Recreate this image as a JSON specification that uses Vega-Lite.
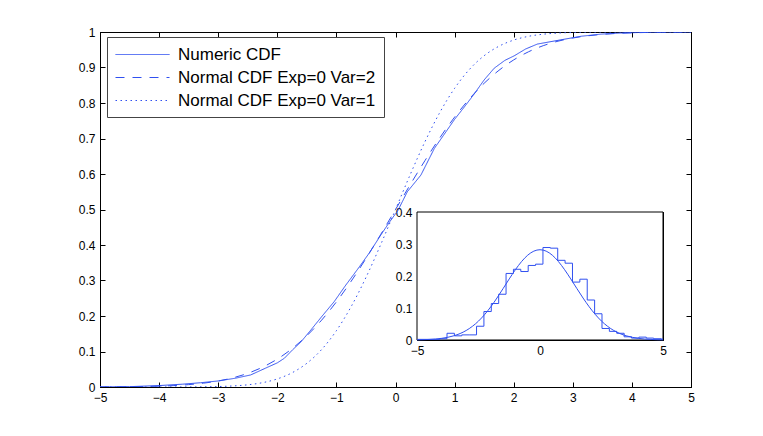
{
  "$schema": "https://vega.github.io/schema/vega-lite/v6.json",
  "width": 591,
  "height": 355,
  "autosize": "none",
  "padding": {"left": 100, "top": 32, "right": 72, "bottom": 49},
  "background": "white",
  "config": {
    "view": {"stroke": "black", "strokeWidth": 1},
    "axis": {
      "domainColor": "black",
      "tickColor": "black",
      "labelColor": "black",
      "labelFont": "Liberation Sans",
      "labelFontSize": 12,
      "grid": false,
      "title": null,
      "tickSize": -5,
      "labelPadding": 10,
      "labelFlush": false,
      "labelOverlap": false
    }
  },
  "datasets": {
    "cdfnum": [
      {"x": -5, "y": 0, "s": "Numeric CDF"},
      {"x": -4.5, "y": 0.001, "s": "Numeric CDF"},
      {"x": -4, "y": 0.004, "s": "Numeric CDF"},
      {"x": -3.6, "y": 0.008, "s": "Numeric CDF"},
      {"x": -3.3, "y": 0.012, "s": "Numeric CDF"},
      {"x": -3.0, "y": 0.017, "s": "Numeric CDF"},
      {"x": -2.7, "y": 0.025, "s": "Numeric CDF"},
      {"x": -2.45, "y": 0.034, "s": "Numeric CDF"},
      {"x": -2.2, "y": 0.053, "s": "Numeric CDF"},
      {"x": -2.0, "y": 0.068, "s": "Numeric CDF"},
      {"x": -1.88, "y": 0.081, "s": "Numeric CDF"},
      {"x": -1.74, "y": 0.105, "s": "Numeric CDF"},
      {"x": -1.6, "y": 0.127, "s": "Numeric CDF"},
      {"x": -1.43, "y": 0.161, "s": "Numeric CDF"},
      {"x": -1.25, "y": 0.198, "s": "Numeric CDF"},
      {"x": -1.035, "y": 0.241, "s": "Numeric CDF"},
      {"x": -0.85, "y": 0.285, "s": "Numeric CDF"},
      {"x": -0.64, "y": 0.332, "s": "Numeric CDF"},
      {"x": -0.45, "y": 0.376, "s": "Numeric CDF"},
      {"x": -0.245, "y": 0.429, "s": "Numeric CDF"},
      {"x": -0.1, "y": 0.465, "s": "Numeric CDF"},
      {"x": 0.04, "y": 0.497, "s": "Numeric CDF"},
      {"x": 0.2, "y": 0.55, "s": "Numeric CDF"},
      {"x": 0.43, "y": 0.597, "s": "Numeric CDF"},
      {"x": 0.657, "y": 0.672, "s": "Numeric CDF"},
      {"x": 0.85, "y": 0.718, "s": "Numeric CDF"},
      {"x": 1.0, "y": 0.754, "s": "Numeric CDF"},
      {"x": 1.17, "y": 0.79, "s": "Numeric CDF"},
      {"x": 1.33, "y": 0.825, "s": "Numeric CDF"},
      {"x": 1.5, "y": 0.865, "s": "Numeric CDF"},
      {"x": 1.67, "y": 0.898, "s": "Numeric CDF"},
      {"x": 1.85, "y": 0.92, "s": "Numeric CDF"},
      {"x": 2.01, "y": 0.933, "s": "Numeric CDF"},
      {"x": 2.2, "y": 0.952, "s": "Numeric CDF"},
      {"x": 2.4, "y": 0.966, "s": "Numeric CDF"},
      {"x": 2.6, "y": 0.972, "s": "Numeric CDF"},
      {"x": 2.8, "y": 0.978, "s": "Numeric CDF"},
      {"x": 3.14, "y": 0.988, "s": "Numeric CDF"},
      {"x": 3.48, "y": 0.994, "s": "Numeric CDF"},
      {"x": 3.8, "y": 0.997, "s": "Numeric CDF"},
      {"x": 4.2, "y": 0.999, "s": "Numeric CDF"},
      {"x": 4.5, "y": 1.0, "s": "Numeric CDF"},
      {"x": 5, "y": 1.0, "s": "Numeric CDF"}
    ],
    "cdfnorm": [
      {"x": -5, "y": 0.0002, "s": "Normal CDF Exp=0 Var=2"},
      {"x": -4.75, "y": 0.0004, "s": "Normal CDF Exp=0 Var=2"},
      {"x": -4.5, "y": 0.0007, "s": "Normal CDF Exp=0 Var=2"},
      {"x": -4.25, "y": 0.0013, "s": "Normal CDF Exp=0 Var=2"},
      {"x": -4, "y": 0.0023, "s": "Normal CDF Exp=0 Var=2"},
      {"x": -3.75, "y": 0.004, "s": "Normal CDF Exp=0 Var=2"},
      {"x": -3.5, "y": 0.0067, "s": "Normal CDF Exp=0 Var=2"},
      {"x": -3.25, "y": 0.0108, "s": "Normal CDF Exp=0 Var=2"},
      {"x": -3, "y": 0.0169, "s": "Normal CDF Exp=0 Var=2"},
      {"x": -2.75, "y": 0.0259, "s": "Normal CDF Exp=0 Var=2"},
      {"x": -2.5, "y": 0.0385, "s": "Normal CDF Exp=0 Var=2"},
      {"x": -2.25, "y": 0.0558, "s": "Normal CDF Exp=0 Var=2"},
      {"x": -2, "y": 0.0786, "s": "Normal CDF Exp=0 Var=2"},
      {"x": -1.75, "y": 0.108, "s": "Normal CDF Exp=0 Var=2"},
      {"x": -1.5, "y": 0.1444, "s": "Normal CDF Exp=0 Var=2"},
      {"x": -1.25, "y": 0.1884, "s": "Normal CDF Exp=0 Var=2"},
      {"x": -1, "y": 0.2398, "s": "Normal CDF Exp=0 Var=2"},
      {"x": -0.75, "y": 0.298, "s": "Normal CDF Exp=0 Var=2"},
      {"x": -0.5, "y": 0.3618, "s": "Normal CDF Exp=0 Var=2"},
      {"x": -0.25, "y": 0.4298, "s": "Normal CDF Exp=0 Var=2"},
      {"x": 0, "y": 0.5, "s": "Normal CDF Exp=0 Var=2"},
      {"x": 0.25, "y": 0.5702, "s": "Normal CDF Exp=0 Var=2"},
      {"x": 0.5, "y": 0.6382, "s": "Normal CDF Exp=0 Var=2"},
      {"x": 0.75, "y": 0.702, "s": "Normal CDF Exp=0 Var=2"},
      {"x": 1, "y": 0.7602, "s": "Normal CDF Exp=0 Var=2"},
      {"x": 1.25, "y": 0.8116, "s": "Normal CDF Exp=0 Var=2"},
      {"x": 1.5, "y": 0.8556, "s": "Normal CDF Exp=0 Var=2"},
      {"x": 1.75, "y": 0.892, "s": "Normal CDF Exp=0 Var=2"},
      {"x": 2, "y": 0.9214, "s": "Normal CDF Exp=0 Var=2"},
      {"x": 2.25, "y": 0.9442, "s": "Normal CDF Exp=0 Var=2"},
      {"x": 2.5, "y": 0.9615, "s": "Normal CDF Exp=0 Var=2"},
      {"x": 2.75, "y": 0.9741, "s": "Normal CDF Exp=0 Var=2"},
      {"x": 3, "y": 0.9831, "s": "Normal CDF Exp=0 Var=2"},
      {"x": 3.25, "y": 0.9892, "s": "Normal CDF Exp=0 Var=2"},
      {"x": 3.5, "y": 0.9933, "s": "Normal CDF Exp=0 Var=2"},
      {"x": 3.75, "y": 0.996, "s": "Normal CDF Exp=0 Var=2"},
      {"x": 4, "y": 0.9977, "s": "Normal CDF Exp=0 Var=2"},
      {"x": 4.25, "y": 0.9987, "s": "Normal CDF Exp=0 Var=2"},
      {"x": 4.5, "y": 0.9993, "s": "Normal CDF Exp=0 Var=2"},
      {"x": 4.75, "y": 0.9996, "s": "Normal CDF Exp=0 Var=2"},
      {"x": 5, "y": 0.9998, "s": "Normal CDF Exp=0 Var=2"},
      {"x": -5, "y": 0.0, "s": "Normal CDF Exp=0 Var=1"},
      {"x": -4, "y": 0.00003, "s": "Normal CDF Exp=0 Var=1"},
      {"x": -3.5, "y": 0.0002, "s": "Normal CDF Exp=0 Var=1"},
      {"x": -3.25, "y": 0.0006, "s": "Normal CDF Exp=0 Var=1"},
      {"x": -3, "y": 0.0013, "s": "Normal CDF Exp=0 Var=1"},
      {"x": -2.75, "y": 0.003, "s": "Normal CDF Exp=0 Var=1"},
      {"x": -2.5, "y": 0.0062, "s": "Normal CDF Exp=0 Var=1"},
      {"x": -2.25, "y": 0.0122, "s": "Normal CDF Exp=0 Var=1"},
      {"x": -2, "y": 0.0228, "s": "Normal CDF Exp=0 Var=1"},
      {"x": -1.75, "y": 0.0401, "s": "Normal CDF Exp=0 Var=1"},
      {"x": -1.5, "y": 0.0668, "s": "Normal CDF Exp=0 Var=1"},
      {"x": -1.25, "y": 0.1056, "s": "Normal CDF Exp=0 Var=1"},
      {"x": -1, "y": 0.1587, "s": "Normal CDF Exp=0 Var=1"},
      {"x": -0.75, "y": 0.2266, "s": "Normal CDF Exp=0 Var=1"},
      {"x": -0.5, "y": 0.3085, "s": "Normal CDF Exp=0 Var=1"},
      {"x": -0.25, "y": 0.4013, "s": "Normal CDF Exp=0 Var=1"},
      {"x": 0, "y": 0.5, "s": "Normal CDF Exp=0 Var=1"},
      {"x": 0.25, "y": 0.5987, "s": "Normal CDF Exp=0 Var=1"},
      {"x": 0.5, "y": 0.6915, "s": "Normal CDF Exp=0 Var=1"},
      {"x": 0.75, "y": 0.7734, "s": "Normal CDF Exp=0 Var=1"},
      {"x": 1, "y": 0.8413, "s": "Normal CDF Exp=0 Var=1"},
      {"x": 1.25, "y": 0.8944, "s": "Normal CDF Exp=0 Var=1"},
      {"x": 1.5, "y": 0.9332, "s": "Normal CDF Exp=0 Var=1"},
      {"x": 1.75, "y": 0.9599, "s": "Normal CDF Exp=0 Var=1"},
      {"x": 2, "y": 0.9772, "s": "Normal CDF Exp=0 Var=1"},
      {"x": 2.25, "y": 0.9878, "s": "Normal CDF Exp=0 Var=1"},
      {"x": 2.5, "y": 0.9938, "s": "Normal CDF Exp=0 Var=1"},
      {"x": 2.75, "y": 0.997, "s": "Normal CDF Exp=0 Var=1"},
      {"x": 3, "y": 0.9987, "s": "Normal CDF Exp=0 Var=1"},
      {"x": 3.25, "y": 0.9994, "s": "Normal CDF Exp=0 Var=1"},
      {"x": 3.5, "y": 0.9998, "s": "Normal CDF Exp=0 Var=1"},
      {"x": 4, "y": 1.0, "s": "Normal CDF Exp=0 Var=1"},
      {"x": 5, "y": 1.0, "s": "Normal CDF Exp=0 Var=1"}
    ],
    "hist": [
      {"x": -4.98, "y": 0.002},
      {"x": -4.68, "y": 0.002},
      {"x": -4.38, "y": 0.002},
      {"x": -4.08, "y": 0.004},
      {"x": -3.78, "y": 0.021},
      {"x": -3.48, "y": 0.013},
      {"x": -3.18, "y": 0.016},
      {"x": -2.88, "y": 0.016},
      {"x": -2.58, "y": 0.043},
      {"x": -2.28, "y": 0.089},
      {"x": -1.98, "y": 0.114},
      {"x": -1.68, "y": 0.143},
      {"x": -1.38, "y": 0.208},
      {"x": -1.08, "y": 0.221},
      {"x": -0.78, "y": 0.214},
      {"x": -0.48, "y": 0.233},
      {"x": -0.18, "y": 0.237},
      {"x": 0.12, "y": 0.289},
      {"x": 0.42, "y": 0.287},
      {"x": 0.72, "y": 0.249},
      {"x": 1.02, "y": 0.24},
      {"x": 1.32, "y": 0.181},
      {"x": 1.62, "y": 0.19},
      {"x": 1.92, "y": 0.125},
      {"x": 2.22, "y": 0.082},
      {"x": 2.52, "y": 0.036},
      {"x": 2.82, "y": 0.027},
      {"x": 3.12, "y": 0.021},
      {"x": 3.42, "y": 0.01},
      {"x": 3.72, "y": 0.006},
      {"x": 4.02, "y": 0.009},
      {"x": 4.32, "y": 0.006},
      {"x": 4.62, "y": 0.004},
      {"x": 4.92, "y": 0.003},
      {"x": 5, "y": 0.003}
    ],
    "pdf": [
      {"x": -5, "y": 0.0005},
      {"x": -4.75, "y": 0.001},
      {"x": -4.5, "y": 0.0018},
      {"x": -4.25, "y": 0.0031},
      {"x": -4, "y": 0.0052},
      {"x": -3.75, "y": 0.0084},
      {"x": -3.5, "y": 0.0132},
      {"x": -3.25, "y": 0.0201},
      {"x": -3, "y": 0.0297},
      {"x": -2.75, "y": 0.0426},
      {"x": -2.5, "y": 0.0591},
      {"x": -2.25, "y": 0.0796},
      {"x": -2, "y": 0.1038},
      {"x": -1.75, "y": 0.1312},
      {"x": -1.5, "y": 0.1607},
      {"x": -1.25, "y": 0.1909},
      {"x": -1, "y": 0.2197},
      {"x": -0.75, "y": 0.2451},
      {"x": -0.5, "y": 0.265},
      {"x": -0.25, "y": 0.2777},
      {"x": 0, "y": 0.2821},
      {"x": 0.25, "y": 0.2777},
      {"x": 0.5, "y": 0.265},
      {"x": 0.75, "y": 0.2451},
      {"x": 1, "y": 0.2197},
      {"x": 1.25, "y": 0.1909},
      {"x": 1.5, "y": 0.1607},
      {"x": 1.75, "y": 0.1312},
      {"x": 2, "y": 0.1038},
      {"x": 2.25, "y": 0.0796},
      {"x": 2.5, "y": 0.0591},
      {"x": 2.75, "y": 0.0426},
      {"x": 3, "y": 0.0297},
      {"x": 3.25, "y": 0.0201},
      {"x": 3.5, "y": 0.0132},
      {"x": 3.75, "y": 0.0084},
      {"x": 4, "y": 0.0052},
      {"x": 4.25, "y": 0.0031},
      {"x": 4.5, "y": 0.0018},
      {"x": 4.75, "y": 0.001},
      {"x": 5, "y": 0.0005}
    ],
    "box": [{"x1": -5, "x2": 5, "y1": 0, "y2": 0.4}]
  },
  "layer": [
    {
      "layer": [
        {
          "data": {"name": "cdfnum"},
          "mark": {"type": "line", "color": "#3050f0", "strokeWidth": 1, "clip": true},
          "encoding": {
            "x": {"field": "x", "type": "quantitative",
                  "scale": {"domain": [-5, 5], "nice": false, "zero": false},
                  "axis": {"orient": "bottom", "values": [-5, -4, -3, -2, -1, 0, 1, 2, 3, 4, 5]}},
            "y": {"field": "y", "type": "quantitative",
                  "scale": {"domain": [0, 1], "nice": false},
                  "axis": {"orient": "left", "format": "~g", "values": [0, 0.1, 0.2, 0.3, 0.4, 0.5, 0.6, 0.7, 0.8, 0.9, 1]}},
            "strokeDash": {"field": "s", "type": "nominal",
              "scale": {"domain": ["Numeric CDF", "Normal CDF Exp=0 Var=2", "Normal CDF Exp=0 Var=1"],
                        "range": [[1, 0], [9, 8], [1.5, 3.5]]},
              "legend": {"orient": "none", "legendX": 7, "legendY": 5, "title": null,
                         "symbolType": "M-1,0H5", "symbolSize": 324, "symbolStrokeWidth": 1,
                         "symbolStrokeColor": "#3050f0", "labelFont": "Liberation Sans",
                         "labelFontSize": 17, "labelColor": "black", "labelOffset": 44,
                         "padding": 8, "rowPadding": 5, "strokeColor": "#444", "fillColor": "white",
                         "labelLimit": 400}}
          }
        },
        {
          "data": {"name": "cdfnorm"},
          "mark": {"type": "line", "color": "#3050f0", "strokeWidth": 1, "interpolate": "monotone", "clip": true},
          "encoding": {
            "x": {"field": "x", "type": "quantitative",
                  "axis": {"orient": "top", "labels": false, "values": [-5, -4, -3, -2, -1, 0, 1, 2, 3, 4, 5]}},
            "y": {"field": "y", "type": "quantitative",
                  "axis": {"orient": "right", "labels": false, "values": [0, 0.1, 0.2, 0.3, 0.4, 0.5, 0.6, 0.7, 0.8, 0.9, 1]}},
            "strokeDash": {"field": "s", "type": "nominal"}
          }
        }
      ],
      "resolve": {"axis": {"x": "independent", "y": "independent"}}
    },
    {
      "layer": [
        {
          "data": {"name": "box"},
          "mark": {"type": "rect", "fill": "white", "stroke": "black", "strokeWidth": 1},
          "encoding": {
            "x": {"field": "x1", "type": "quantitative",
                  "scale": {"domain": [-5, 5], "range": [317, 563], "nice": false, "zero": false},
                  "axis": {"orient": "bottom", "offset": -47, "values": [-5, 0, 5]}},
            "x2": {"field": "x2"},
            "y": {"field": "y1", "type": "quantitative",
                  "scale": {"domain": [0, 0.4], "range": [308, 180], "nice": false},
                  "axis": {"orient": "left", "offset": -317, "format": "~g", "values": [0, 0.1, 0.2, 0.3, 0.4]}},
            "y2": {"field": "y2"}
          }
        },
        {
          "data": {"name": "hist"},
          "mark": {"type": "line", "color": "#3050f0", "strokeWidth": 1, "interpolate": "step-after"},
          "encoding": {
            "x": {"field": "x", "type": "quantitative",
                  "axis": {"orient": "top", "offset": -180, "labels": false, "values": [-5, 0, 5]}},
            "y": {"field": "y", "type": "quantitative",
                  "axis": {"orient": "right", "offset": -28, "labels": false, "values": [0, 0.1, 0.2, 0.3, 0.4]}}
          }
        },
        {
          "data": {"name": "pdf"},
          "mark": {"type": "line", "color": "#3050f0", "strokeWidth": 1, "interpolate": "monotone"},
          "encoding": {
            "x": {"field": "x", "type": "quantitative", "axis": null},
            "y": {"field": "y", "type": "quantitative", "axis": null}
          }
        }
      ],
      "resolve": {"axis": {"x": "independent", "y": "independent"}}
    }
  ],
  "resolve": {"scale": {"x": "independent", "y": "independent"}}
}
